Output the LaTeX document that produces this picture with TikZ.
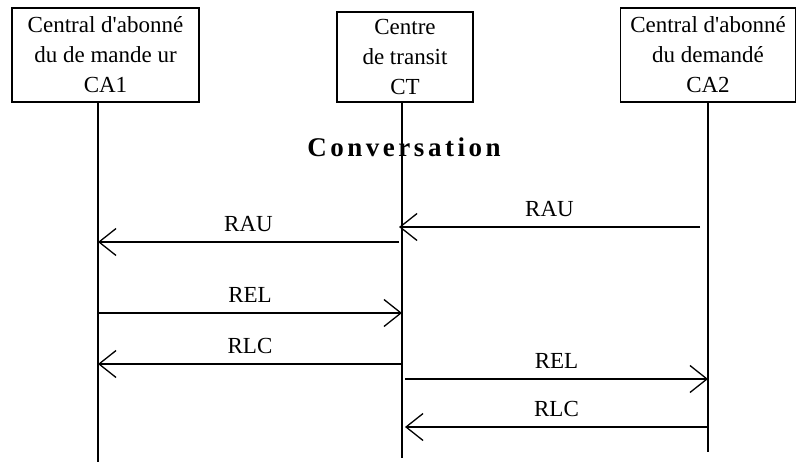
\documentclass[tikz,border=0pt]{standalone}
\usepackage{fontspec}
\setmainfont{Liberation Serif}
\usetikzlibrary{arrows.meta}

\begin{document}
\begin{tikzpicture}[x=1pt, y=-1pt, % 1 Pixel = 1pt, y nach unten
  central/.style={draw, line width=1.4pt, minimum height=94pt, inner sep=0pt, align=center, font=\fontsize{23}{30}\selectfont},
  vie/.style={line width=1.3pt},
  msg/.style={line width=1.3pt, -{Straight Barb[length=17pt, width=27pt, line width=1.3pt]}},
  lab/.style={above=10pt, inner sep=0pt, font=\fontsize{23}{28}\selectfont}]

\useasboundingbox (0,0) rectangle (797,462);

% Zentralen
\node[central, minimum width=187pt] (ca1) at (105.5,55) {Central d\textquotesingle abonné\\du de mande ur\\CA1};
\node[central, minimum width=136pt, minimum height=90pt] (ct) at (405,57) {Centre\\de transit\\CT};
\node[central, minimum width=175pt] (ca2) at (708,55) {Central d\textquotesingle abonné\\du demandé\\CA2};

% Titel
\node[font=\fontsize{27}{30}\selectfont\bfseries\addfontfeatures{LetterSpace=13}, anchor=base] (conv) at (404,157) {Conversation};

% Lebenslinien
\coordinate (f1) at (98,462);
\coordinate (f2) at (402,458);
\coordinate (f3) at (708,452);
\draw[vie] (ca1.south -| f1) -- (f1);
\draw[vie] (ct.south -| f2) -- (f2);
\draw[vie] (ca2.south -| f3) -- (f3);

% Meldungen
\foreach \nom/\xa/\xb/\y/\txt in {rau1/700/399/227/RAU, rau2/399/98/242/RAU, rel1/98/402/313/REL, rlc1/402/98/364/RLC, rel2/405/708/379/REL, rlc2/708/405/427/RLC} {
  \coordinate (\nom-a) at (\xa,\y);
  \coordinate (\nom-b) at (\xb,\y);
  \draw[msg] (\nom-a) -- node[lab] (\nom) {\txt} (\nom-b); % Pfeil mit Beschriftung
}

\end{tikzpicture}
\end{document}
